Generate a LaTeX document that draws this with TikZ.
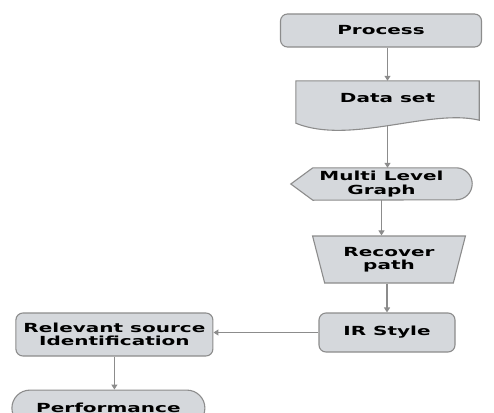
\documentclass[tikz,border=0pt]{standalone}
\usepackage{fontspec}
\newfontfamily\flowfont{DejaVu Sans}[FakeStretch=1.6]
\usetikzlibrary{shapes.geometric, shapes.misc, arrows.meta, positioning, calc, backgrounds}
\definecolor{boxfill}{RGB}{213,216,220}
\definecolor{boxline}{RGB}{140,140,140}

\begin{document}
\begin{tikzpicture}[
      x=1pt, y=1pt,
      base/.style={font=\flowfont\bfseries\fontsize{12.5}{13.5}\selectfont, align=center, inner sep=2pt},
      outline/.style={draw=boxline, line width=1.1pt, fill=boxfill},
      roundbox/.style={base, outline, rectangle, rounded corners=7pt},
      databox/.style={base, rectangle, minimum width=183pt, minimum height=35pt},
      displaybox/.style={base, rectangle, minimum width=181pt, minimum height=32pt},
      manualbox/.style={base, outline, trapezium, trapezium stretches=true, shape border rotate=180,
        trapezium left angle=73, trapezium right angle=73, minimum width=153pt, minimum height=47pt},
      endbox/.style={base, outline, rounded rectangle, minimum width=197pt, minimum height=36pt},
      arrow/.style={-{Triangle[length=5pt, width=6pt]}, draw=boxline, line width=1.1pt}
    ]
    \useasboundingbox (0,0) rectangle (494,-412);
    \clip (0,0) rectangle (494,-412);

    \node[roundbox, minimum width=201pt, minimum height=33pt] (process) at (381,-30.5) {Process};
    \node[databox] (dataset) at (387.5,-98.5) {Data set};
    \node[displaybox] (multi) at (381.5,-184) {Multi Level\\Graph};
    \node[manualbox] (recover) at (389,-259.5) {Recover\\path};
    \node[roundbox, minimum width=136pt, minimum height=39pt] (irstyle) at (387,-332.5) {IR Style};
    \node[roundbox, minimum width=197pt, minimum height=43pt, left=105pt of irstyle, yshift=-2pt] (relevant) {Relevant source\\Identification};
    \node[endbox, below=33pt of relevant, xshift=-6pt] (performance) {Performance};

    % outlines of the data set and the display box
    \begin{scope}[on background layer]
      \draw[outline] (dataset.north west) -- (dataset.north east) -- ([yshift=-4pt]dataset.south east)
        .. controls ($(dataset.south east)+(-49,8)$) and ($(dataset.south west)+(54,-29)$) .. ([yshift=-7pt]dataset.south west) -- cycle;
      \draw[outline] ([xshift=22pt]multi.north west) -- ([xshift=-16pt]multi.north east)
        arc[start angle=90, end angle=-90, radius=16pt] -- ([xshift=22pt]multi.south west) -- (multi.west) -- cycle;
    \end{scope}

    \coordinate (dsout) at ([yshift=-9pt]dataset.south);

    \draw[arrow] (dataset.north |- process.south) -- (dataset.north);
    \draw[arrow] (dsout) -- (dsout |- multi.north);
    \draw[arrow] (multi.south) -- (multi.south |- recover.north);
    \draw[arrow] (irstyle.north |- recover.south) -- (irstyle.north);
    \draw[arrow] (irstyle.west) -- (relevant.east |- irstyle.west);
    \draw[arrow] (relevant.south) -- (relevant.south |- performance.north);
  \end{tikzpicture}
\end{document}
